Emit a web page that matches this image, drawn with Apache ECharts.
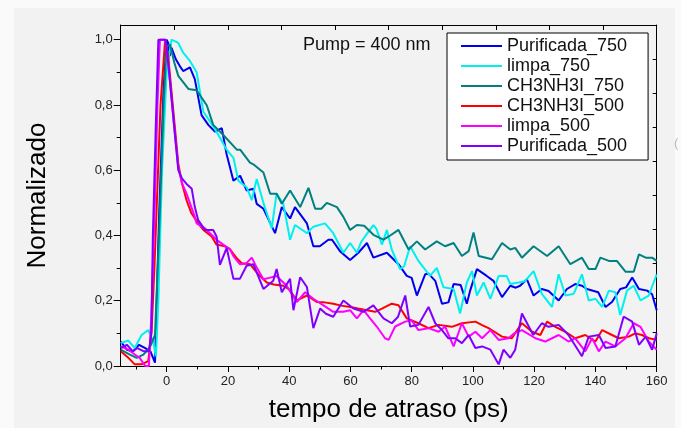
<!DOCTYPE html>
<html>
<head>
<meta charset="utf-8">
<script src="https://cdn.jsdelivr.net/npm/echarts@6/dist/echarts.min.js"></script>
<style>
html,body{margin:0;padding:0;background:#fafafa;}
#chart{width:681px;height:428px;}
</style>
</head>
<body>
<div id="chart"></div>
<script>
// ---- data (time in ps, normalized signal) ----
const seriesNames = ['Purificada_750','limpa_750','CH3NH3I_750','CH3NH3I_500','limpa_500','Purificada_500'];
const seriesColors = ['#0000ee','#00f0f0','#008080','#ff0000','#ff00ff','#8000ff'];

const purificada750 = [[-15,0.075],[-13,0.05],[-11,0.045],[-9,0.065],[-7,0.055],[-5.3,0.045],[-3.8,0.01],[-2.5,0.45],[-1,0.85],[0,1.0],[0.5,0.99],[1,0.95],[1.6,0.975],[3,0.94],[4.3,0.919],[5.4,0.904],[7.6,0.915],[9.2,0.879],[11.4,0.769],[13.6,0.739],[15.8,0.718],[18,0.729],[19.6,0.648],[21.8,0.568],[24,0.583],[26.1,0.538],[28.3,0.543],[29.4,0.497],[31.6,0.482],[35.4,0.407],[37.6,0.487],[40.3,0.452],[41.9,0.487],[45.8,0.437],[47.9,0.367],[50,0.367],[52.8,0.387],[54,0.387],[56.6,0.352],[59.9,0.325],[62.6,0.347],[65.4,0.377],[67.5,0.332],[68.1,0.332],[71.9,0.347],[75.7,0.312],[78.4,0.276],[80,0.27],[81.7,0.216],[84.4,0.281],[85.5,0.283],[87.7,0.261],[89.9,0.191],[92,0.195],[93.7,0.251],[96,0.248],[98,0.191],[99.1,0.231],[101.3,0.297],[104.5,0.276],[106.7,0.261],[109.5,0.211],[112.2,0.246],[114,0.24],[115.4,0.246],[117.6,0.266],[119.8,0.216],[122.5,0.236],[124.7,0.23],[128,0.201],[130.7,0.236],[133.4,0.251],[135.6,0.246],[137.2,0.236],[140.9,0.226],[143.3,0.181],[145.4,0.196],[148.1,0.236],[150,0.241],[152,0.271],[154.2,0.236],[156.9,0.231],[158.5,0.22],[160,0.171]];

const limpa750 = [[-15,0.07],[-12.5,0.078],[-10.4,0.055],[-8.2,0.095],[-6,0.11],[-4.4,0.075],[-3.5,0.03],[-2.7,0.2],[-1.5,0.6],[0,0.9],[1.6,1.0],[3.8,0.99],[5.4,0.96],[7.6,0.935],[9.8,0.9],[10.9,0.839],[12,0.779],[14.2,0.749],[16.9,0.708],[19.6,0.663],[21.8,0.638],[23.4,0.568],[26.1,0.548],[27.8,0.508],[29.4,0.573],[31.6,0.5],[34.3,0.422],[35.9,0.528],[38.1,0.497],[40.3,0.387],[41.9,0.432],[45.8,0.407],[47.9,0.427],[51.7,0.437],[54.4,0.407],[57.7,0.347],[59.9,0.377],[62.1,0.347],[63.5,0.38],[65.9,0.412],[67.5,0.432],[68.5,0.42],[70.3,0.372],[71.9,0.417],[73.5,0.357],[76.2,0.297],[77.5,0.305],[79.5,0.367],[82.2,0.322],[86,0.276],[88.2,0.301],[90.4,0.241],[93.7,0.236],[95.8,0.161],[98,0.256],[99.7,0.291],[101.3,0.216],[103.5,0.256],[105.7,0.206],[108.4,0.276],[111,0.276],[112.2,0.251],[114.9,0.256],[117,0.26],[119.8,0.291],[122.5,0.221],[125.8,0.181],[128,0.281],[130.2,0.216],[132.9,0.221],[135.6,0.281],[137.8,0.201],[140,0.206],[142.2,0.181],[144.4,0.231],[146.5,0.226],[148.1,0.156],[150.3,0.231],[152.5,0.246],[154.7,0.201],[157.4,0.216],[160,0.281]];

const ch3nh3i750 = [[-15,0.05],[-12,0.035],[-9.8,0.025],[-7.6,0.035],[-5.6,0.055],[-3.8,0.095],[-2.5,0.4],[-1,0.8],[0,0.98],[1.1,0.985],[2.5,0.93],[3.8,0.889],[7.1,0.849],[9.8,0.845],[13.1,0.799],[15.2,0.739],[18.5,0.708],[22.9,0.663],[24,0.663],[27.2,0.623],[28.3,0.618],[31.6,0.593],[33.8,0.528],[35.9,0.528],[37.6,0.497],[40.3,0.538],[43.6,0.487],[46.3,0.546],[48.5,0.482],[50.5,0.482],[52.3,0.5],[55.6,0.487],[57.7,0.457],[59.9,0.417],[62.1,0.432],[64.5,0.43],[67.5,0.402],[70.8,0.387],[73,0.4],[75.7,0.417],[79,0.357],[81.7,0.382],[84.4,0.357],[88.2,0.382],[90.9,0.367],[93.7,0.377],[96.4,0.337],[98.6,0.352],[100.2,0.409],[101.9,0.337],[106.2,0.327],[109.5,0.377],[112.2,0.357],[113.8,0.362],[116,0.332],[119.8,0.367],[124.2,0.337],[128,0.367],[131.8,0.312],[135.6,0.332],[137.8,0.297],[140,0.297],[141.6,0.332],[144.4,0.322],[147,0.322],[149.8,0.289],[152.5,0.289],[154.2,0.342],[156.4,0.332],[158.5,0.332],[160,0.322]];

const ch3nh3i500 = [[-15,0.045],[-12.5,0.025],[-10.4,0.005],[-8.2,0.005],[-6,0.015],[-4.9,0.11],[-4,0.3],[-3,0.55],[-2,0.8],[-0.5,1.0],[0.5,0.95],[1.5,0.85],[2.5,0.75],[3.8,0.62],[5,0.56],[6.5,0.508],[8,0.47],[10.3,0.437],[12,0.417],[14.7,0.397],[16.3,0.372],[19,0.367],[20.5,0.36],[22.9,0.33],[24.5,0.315],[27.2,0.312],[30,0.28],[32.7,0.256],[35,0.25],[38.1,0.246],[40,0.235],[42.5,0.201],[45.8,0.216],[49,0.196],[51.5,0.195],[54.4,0.191],[57,0.185],[59.9,0.181],[62.5,0.176],[65.4,0.171],[68.1,0.166],[70.3,0.176],[73.5,0.191],[75.7,0.186],[78.4,0.146],[82.2,0.131],[85.5,0.116],[88.8,0.126],[93.1,0.12],[96.4,0.131],[100.8,0.136],[103,0.125],[105.1,0.116],[107,0.105],[109.5,0.09],[112.7,0.085],[114.9,0.116],[116,0.131],[119.3,0.105],[122,0.095],[124.2,0.136],[126.9,0.12],[130.2,0.105],[133.4,0.085],[136.7,0.095],[140,0.075],[142.2,0.11],[145.4,0.095],[147.6,0.085],[150.9,0.09],[153,0.1],[155.2,0.095],[157.5,0.085],[160,0.08]];

const limpa500 = [[-15,0.06],[-12.5,0.05],[-10.4,0.035],[-8.8,0.025],[-7,0.0],[-5.8,0.0],[-5,0.15],[-4,0.45],[-3,0.8],[-2.2,1.0],[-0.5,1.0],[0.5,0.93],[1.5,0.83],[2.5,0.73],[3.8,0.61],[5,0.56],[6.5,0.528],[9.2,0.457],[9.8,0.437],[12.5,0.422],[16.3,0.387],[18,0.375],[20.7,0.357],[21.8,0.337],[23.9,0.312],[26,0.315],[27.8,0.332],[29.5,0.3],[31.6,0.266],[33.5,0.27],[35.9,0.276],[39.2,0.246],[42.5,0.196],[45.2,0.226],[47.9,0.206],[51.2,0.186],[54.4,0.166],[57.7,0.166],[59.9,0.171],[62.1,0.146],[64.3,0.171],[66.4,0.146],[68.6,0.121],[71.3,0.085],[72.5,0.08],[74.6,0.121],[77.9,0.136],[80,0.14],[82.2,0.11],[85.5,0.116],[88.8,0.105],[90.9,0.121],[93.7,0.06],[96.4,0.131],[98.6,0.09],[100.8,0.105],[103,0.085],[105.7,0.11],[108.4,0.08],[111.6,0.085],[113.5,0.1],[116,0.11],[120.4,0.085],[123.6,0.075],[128,0.095],[131.2,0.075],[133.4,0.085],[136.7,0.045],[138.9,0.085],[141.1,0.045],[143.3,0.075],[146.5,0.06],[149.8,0.085],[152.5,0.131],[154.7,0.12],[157.4,0.075],[160,0.05]];

const purificada500 = [[-15,0.055],[-13,0.065],[-11,0.045],[-9.6,0.055],[-7.4,0.045],[-5.8,0.045],[-5,0.1],[-4.5,0.4],[-3.5,0.75],[-2.7,1.0],[-0.3,1.0],[0.5,0.93],[1.5,0.83],[2.5,0.73],[3.8,0.6],[5,0.575],[6.5,0.558],[8.2,0.543],[9.2,0.487],[10.3,0.447],[12.5,0.417],[15.2,0.417],[16.3,0.397],[17.4,0.31],[19.6,0.362],[21.8,0.267],[23.9,0.267],[26.1,0.307],[28.3,0.312],[31.6,0.236],[34.8,0.261],[35.9,0.297],[37.6,0.226],[40.3,0.267],[41.4,0.171],[43.6,0.272],[45.8,0.242],[47.9,0.116],[50.1,0.176],[52,0.16],[54.4,0.151],[57.7,0.201],[61,0.176],[64.3,0.166],[67.5,0.186],[70.8,0.146],[73.5,0.131],[75.5,0.15],[77.9,0.216],[79.5,0.121],[82.2,0.126],[85.5,0.181],[87.7,0.131],[89.9,0.11],[92,0.085],[94.2,0.085],[96.4,0.07],[98.6,0.095],[100.8,0.055],[103,0.06],[105.7,0.05],[108.4,0.005],[110,0.05],[112.2,0.025],[113.8,0.05],[116,0.161],[119.7,0.095],[122.5,0.131],[124.7,0.12],[128,0.126],[131.2,0.095],[135.6,0.03],[137.8,0.09],[141.1,0.095],[143.3,0.055],[146.5,0.06],[149.2,0.151],[152,0.136],[154.2,0.065],[156.4,0.09],[158.5,0.05],[160,0.1]];

const xMajorTicks = [0,20,40,60,80,100,120,140,160];
const xMinorTicks = [-10,10,30,50,70,90,110,130,150];
const yMajorTicks = [0,0.2,0.4,0.6,0.8,1.0];
const yMinorTicks = [0.1,0.3,0.5,0.7,0.9];
const frameTicks = [1,2,3,4,5,6,7,8,9];

const allSeries = [purificada750, limpa750, ch3nh3i750, ch3nh3i500, limpa500, purificada500];

const FONT = '"Liberation Sans", Arial, sans-serif';
const X_MIN = -15, X_MAX = 160, Y_MIN = 0, Y_MAX = 1.045;
const lineCol = '#000';

const chart = echarts.init(document.getElementById('chart'), null, {renderer:'canvas'});
const option = {
  backgroundColor: '#fafafa',
  animation: false,
  textStyle: {fontFamily: FONT},
  grid: {left: 120.7, right: 24.3, top: 25, bottom: 56.3, containLabel: false},
  graphic: [
    {type:'rect', left:14, top:8, shape:{width:661, height:420}, style:{fill:'#f2f2f2'}, z:-10, silent:true},
    {type:'text', x:303, y:45.5, style:{text:'Pump = 400 nm', fontSize:18, fontFamily:FONT, fill:'#111', textVerticalAlign:'middle'}, z:10},
    {type:'text', x:674, y:143, style:{text:'(', fontSize:13, fontFamily:FONT, fill:'#bbb', textVerticalAlign:'middle'}, z:10}
  ],
  legend: {
    show: true,
    orient: 'vertical',
    left: 447, top: 33,
    data: seriesNames,
    icon: 'rect',
    itemWidth: 41, itemHeight: 2,
    itemGap: 0,
    padding: [3, 21, 4, 14],
    backgroundColor: '#fff',
    borderColor: '#000', borderWidth: 1,
    textStyle: {fontSize: 18, fontFamily: FONT, color: '#111', lineHeight: 20},
    selectedMode: false
  },
  xAxis: [
    {
      type:'value', min:X_MIN, max:X_MAX, position:'bottom',
      axisLine:{show:true, onZero:false, lineStyle:{color:lineCol, width:1}},
      axisTick:{show:true, customValues:xMajorTicks, length:6, inside:false, lineStyle:{color:lineCol}},
      axisLabel:{show:true, customValues:xMajorTicks, fontSize:13, color:'#222', margin:9, fontFamily:FONT},
      splitLine:{show:false},
      name:'tempo de atraso (ps)', nameLocation:'middle', nameGap:31,
      nameTextStyle:{fontSize:26, color:'#000', fontFamily:FONT}
    },
    {
      type:'value', min:X_MIN, max:X_MAX, position:'bottom',
      axisLine:{show:false, onZero:false},
      axisTick:{show:true, customValues:xMinorTicks, length:3.5, inside:false, lineStyle:{color:lineCol}},
      axisLabel:{show:false}, splitLine:{show:false}
    },
    {
      type:'value', min:0, max:10, position:'top',
      axisLine:{show:true, onZero:false, lineStyle:{color:lineCol, width:1}},
      axisTick:{show:true, customValues:frameTicks, length:5, inside:true, lineStyle:{color:lineCol}},
      axisLabel:{show:false}, splitLine:{show:false}
    }
  ],
  yAxis: [
    {
      type:'value', min:Y_MIN, max:Y_MAX, position:'left',
      axisLine:{show:true, onZero:false, lineStyle:{color:lineCol, width:1}},
      axisTick:{show:true, customValues:yMajorTicks, length:7, inside:false, lineStyle:{color:lineCol}},
      axisLabel:{show:true, customValues:yMajorTicks, fontSize:13, color:'#222', margin:8, fontFamily:FONT,
        formatter: v => v.toFixed(1).replace('.', ',')},
      splitLine:{show:false},
      name:'Normalizado', nameLocation:'middle', nameGap:70, nameRotate:90,
      nameTextStyle:{fontSize:26, color:'#000', fontFamily:FONT}
    },
    {
      type:'value', min:Y_MIN, max:Y_MAX, position:'left',
      axisLine:{show:false, onZero:false},
      axisTick:{show:true, customValues:yMinorTicks, length:4, inside:false, lineStyle:{color:lineCol}},
      axisLabel:{show:false}, splitLine:{show:false}
    },
    {
      type:'value', min:0, max:10, position:'right',
      axisLine:{show:true, onZero:false, lineStyle:{color:lineCol, width:1}},
      axisTick:{show:true, customValues:frameTicks, length:4, inside:true, lineStyle:{color:lineCol}},
      axisLabel:{show:false}, splitLine:{show:false}
    }
  ],
  series: allSeries.map((d, i) => ({
    name: seriesNames[i],
    type: 'line',
    xAxisIndex: 0, yAxisIndex: 0,
    data: d,
    symbol: 'none',
    showSymbol: false,
    clip: true,
    color: seriesColors[i],
    lineStyle: {width: 2, color: seriesColors[i]},
    z: 2 + i
  }))
};
chart.setOption(option);
</script>
</body>
</html>
